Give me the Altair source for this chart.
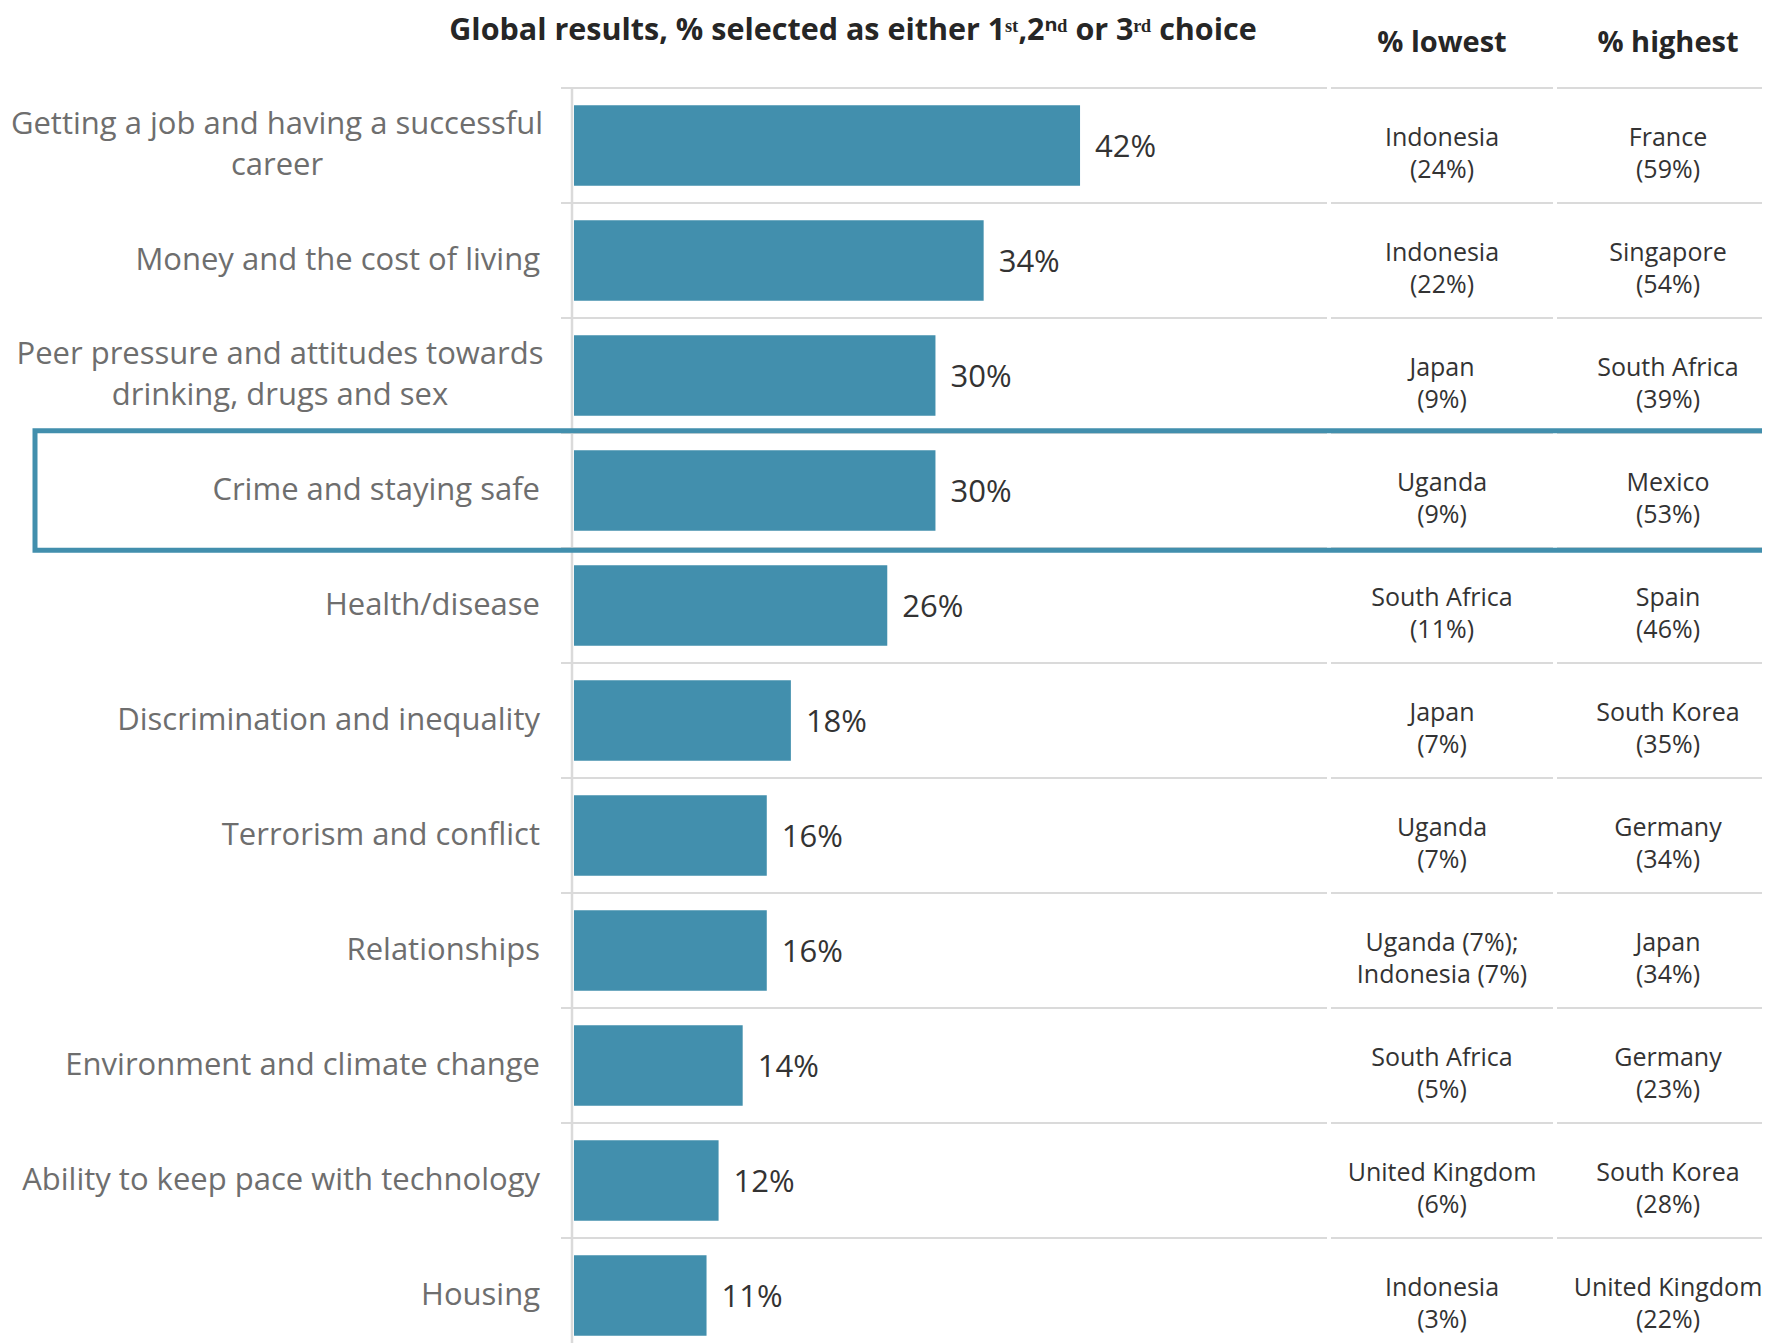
import altair as alt
import pandas as pd

# ---------------- data ----------------
categories = [
    "Getting a job and having a successful\ncareer",
    "Money and the cost of living",
    "Peer pressure and attitudes towards\ndrinking, drugs and sex",
    "Crime and staying safe",
    "Health/disease",
    "Discrimination and inequality",
    "Terrorism and conflict",
    "Relationships",
    "Environment and climate change",
    "Ability to keep pace with technology",
    "Housing",
]
global_pct = [42, 34, 30, 30, 26, 18, 16, 16, 14, 12, 11]
lowest_text = [
    "Indonesia\n(24%)", "Indonesia\n(22%)", "Japan\n(9%)", "Uganda\n(9%)",
    "South Africa\n(11%)", "Japan\n(7%)", "Uganda\n(7%)",
    "Uganda (7%);\nIndonesia (7%)", "South Africa\n(5%)",
    "United Kingdom\n(6%)", "Indonesia\n(3%)",
]
highest_text = [
    "France\n(59%)", "Singapore\n(54%)", "South Africa\n(39%)", "Mexico\n(53%)",
    "Spain\n(46%)", "South Korea\n(35%)", "Germany\n(34%)", "Japan\n(34%)",
    "Germany\n(23%)", "South Korea\n(28%)", "United Kingdom\n(22%)",
]
highlighted = "Crime and staying safe"
headers = ["% lowest", "% highest"]
chart_title = "Global results, % selected as either 1\u02e2\u1d57,2\u207f\u1d48 or 3\u02b3\u1d48 choice"

df = pd.DataFrame({
    "category": categories,
    "pct": global_pct,
    "lowest": lowest_text,
    "highest": highest_text,
})

# ---------------- styling ----------------
BAR = "#428fad"
GRID = "#dadada"
FONT = "Open Sans"
W, H = 1188, 1255
LOW_X, HIGH_X = 868, 1094

yscale = alt.Scale(domain=categories, range=[0, 1265], paddingInner=0, paddingOuter=0)
Y = alt.Y("category:N", scale=yscale, axis=None)
Y0 = alt.Y("category:N", scale=yscale, axis=None, bandPosition=0)
xscale = alt.Scale(domain=[0, 98.6], nice=False, zero=True)

base = alt.Chart(df)

# separators (row tops), three segments
sep1 = base.mark_rule(color=GRID, strokeWidth=2).encode(y=Y0, x=alt.value(-13), x2=alt.value(753))
sep2 = base.mark_rule(color=GRID, strokeWidth=2).encode(y=Y0, x=alt.value(757), x2=alt.value(979))
sep3 = base.mark_rule(color=GRID, strokeWidth=2).encode(y=Y0, x=alt.value(983), x2=alt.value(W + 20))

# vertical axis line
vline = alt.Chart(pd.DataFrame({"k": [0]})).mark_rule(color=GRID, strokeWidth=2.5).encode(
    x=alt.value(-2), y=alt.value(0), y2=alt.value(1265)
)

bars = base.mark_bar(color=BAR, height={"band": 0.7}).encode(
    y=Y, x=alt.X("pct:Q", scale=xscale, axis=None)
)

values = base.transform_calculate(lbl="datum.pct + '%'").mark_text(
    align="left", baseline="middle", dx=15, dy=2, font=FONT, fontSize=31, color="#333333"
).encode(y=Y, x=alt.X("pct:Q", scale=xscale, axis=None), text="lbl:N")

# category labels
single = base.transform_filter("indexof(datum.category, '\\n') < 0").mark_text(
    align="right", baseline="middle", font=FONT, fontSize=31, color="#6e6e6e"
).encode(y=Y, x=alt.value(-34), text="category:N")

wrap1 = base.transform_filter(alt.datum.category == categories[0]).mark_text(
    align="center", baseline="middle", font=FONT, fontSize=31, color="#6e6e6e",
    lineBreak="\n", lineHeight=41, dy=-21
).encode(y=Y, x=alt.value(-297), text="category:N")

wrap2 = base.transform_filter(alt.datum.category == categories[2]).mark_text(
    align="center", baseline="middle", font=FONT, fontSize=31, color="#6e6e6e",
    lineBreak="\n", lineHeight=41, dy=-21
).encode(y=Y, x=alt.value(-294), text="category:N")

# table columns
low_col = base.mark_text(
    align="center", baseline="middle", font=FONT, fontSize=25, color="#333333",
    lineBreak="\n", lineHeight=32, dy=-8
).encode(y=Y, x=alt.value(LOW_X), text="lowest:N")

high_col = base.mark_text(
    align="center", baseline="middle", font=FONT, fontSize=25, color="#333333",
    lineBreak="\n", lineHeight=32, dy=-8
).encode(y=Y, x=alt.value(HIGH_X), text="highest:N")

# headers and title
hdr_low = alt.Chart(pd.DataFrame({"t": [headers[0]]})).mark_text(
    align="center", baseline="middle", font=FONT, fontSize=29, fontWeight="bold", color="#262626"
).encode(x=alt.value(LOW_X), y=alt.value(-45), text="t:N")
hdr_high = alt.Chart(pd.DataFrame({"t": [headers[1]]})).mark_text(
    align="center", baseline="middle", font=FONT, fontSize=29, fontWeight="bold", color="#262626"
).encode(x=alt.value(HIGH_X), y=alt.value(-45), text="t:N")
title = alt.Chart(pd.DataFrame({"t": [chart_title]})).mark_text(
    align="center", baseline="middle", font=FONT, fontSize=30.5, fontWeight="bold", color="#262626"
).encode(x=alt.value(279), y=alt.value(-57), text="t:N")

# highlight box
box = base.transform_filter(alt.datum.category == highlighted).mark_bar(
    height={"band": 1.04}, fillOpacity=0, stroke=BAR, strokeWidth=5
).encode(y=Y, x=alt.value(-539), x2=alt.value(W + 40))

chart = alt.layer(
    sep1, sep2, sep3, vline, bars, values, single, wrap1, wrap2,
    low_col, high_col, hdr_low, hdr_high, title, box
).properties(
    width=W, height=H,
    padding={"left": 566, "top": 80, "right": 0, "bottom": 0},
    autosize=alt.AutoSizeParams(type="none"),
    background="white",
).configure_view(stroke="transparent")

chart.save("out.html", embed_options={"renderer": "svg", "actions": False})
